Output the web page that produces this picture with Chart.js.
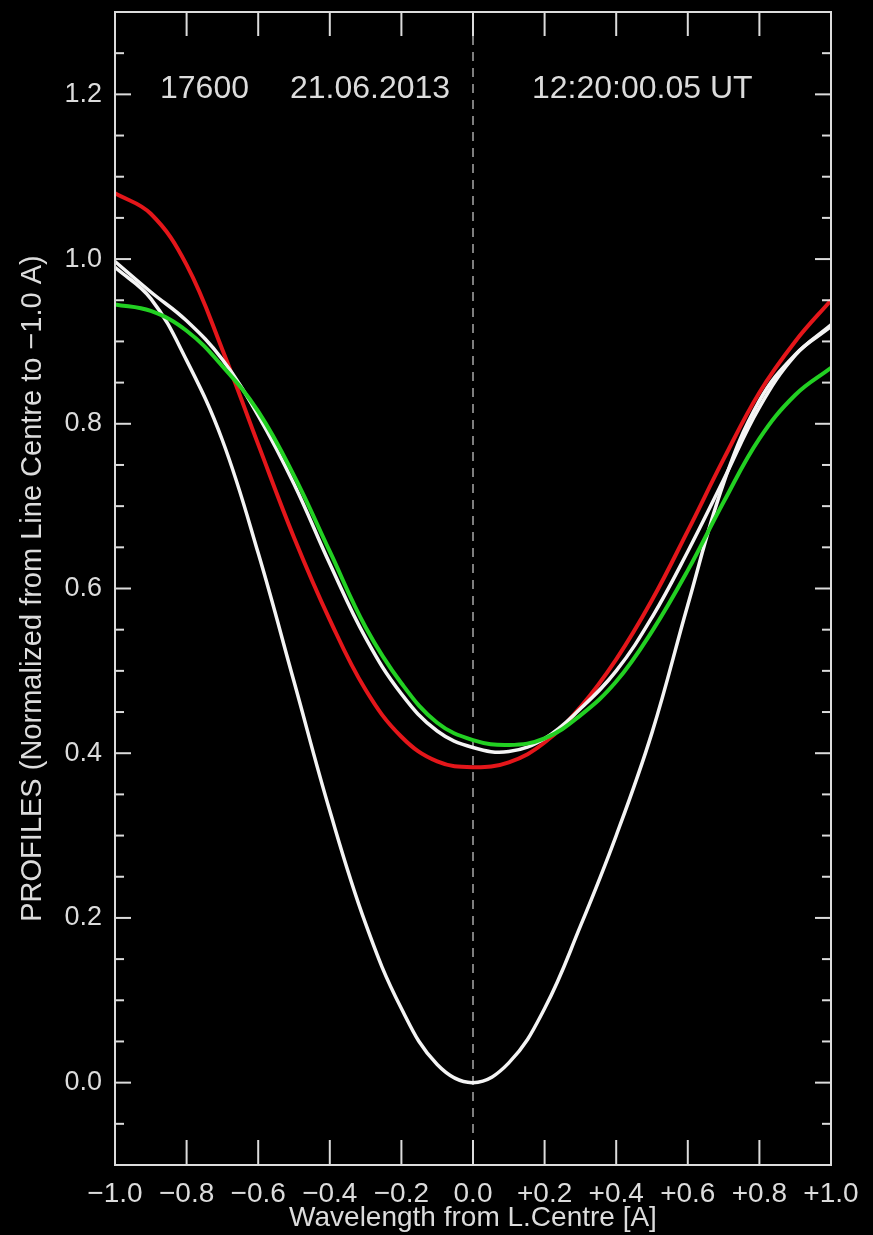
<!DOCTYPE html>
<html><head><meta charset="utf-8">
<script src="https://cdn.jsdelivr.net/npm/chart.js@4.4.1/dist/chart.umd.min.js"></script>
<style>html,body{margin:0;padding:0;background:#000;overflow:hidden}#wrap{width:873px;height:1235px;position:relative}</style>
</head><body><div id="wrap"><canvas id="c" width="873" height="1235"></canvas></div>
<script>
// ---- data ----
const wavelength = [-1.0,-0.9,-0.8,-0.7,-0.6,-0.5,-0.4,-0.3,-0.2,-0.1,0.0,0.1,0.2,0.3,0.4,0.5,0.6,0.7,0.8,0.9,1.0];
const deepProfile  = [0.99,0.952,0.877,0.78,0.643,0.487,0.33,0.193,0.09,0.022,0.0,0.024,0.09,0.19,0.30,0.425,0.58,0.728,0.828,0.884,0.918];
const whiteProfile = [0.997,0.96,0.925,0.878,0.81,0.727,0.63,0.54,0.472,0.427,0.407,0.402,0.418,0.454,0.50,0.565,0.645,0.732,0.82,0.883,0.92];
const redProfile   = [1.08,1.055,0.993,0.89,0.775,0.662,0.562,0.477,0.42,0.39,0.383,0.389,0.413,0.456,0.514,0.586,0.67,0.757,0.838,0.9,0.95];
const greenProfile = [0.945,0.937,0.913,0.87,0.815,0.737,0.645,0.553,0.485,0.437,0.416,0.41,0.418,0.446,0.487,0.548,0.622,0.705,0.782,0.835,0.868];
const lineCentre = 0.0;
const xTickValues = [-1.0,-0.8,-0.6,-0.4,-0.2,0.0,0.2,0.4,0.6,0.8,1.0];
const xTickLabels = ['\u22121.0','\u22120.8','\u22120.6','\u22120.4','\u22120.2','0.0','+0.2','+0.4','+0.6','+0.8','+1.0'];
const yTickValues = [0.0,0.2,0.4,0.6,0.8,1.0,1.2];
const yTickLabels = ['0.0','0.2','0.4','0.6','0.8','1.0','1.2'];
const yMinorStep = 0.05;
const xRange = [-1.0, 1.0];
const yRange = [-0.1, 1.3];
const headerTexts = ['17600','21.06.2013','12:20:00.05 UT'];
const xTitle = 'Wavelength from L.Centre [A]';
const yTitle = 'PROFILES (Normalized from Line Centre to \u22121.0 A)';

const FG = '#dcdcdc';
const FONT = "'Liberation Sans', Arial, sans-serif";
const pts = arr => wavelength.map((x,i)=>({x, y:arr[i]}));

const framePlugin = {
  id:'frame',
  afterDatasetsDraw(chart){
    const {ctx, chartArea:a, scales:{x,y}} = chart;
    ctx.save();
    ctx.strokeStyle = FG; ctx.lineWidth = 2;
    const ln=(x1,y1,x2,y2)=>{ctx.beginPath();ctx.moveTo(x1,y1);ctx.lineTo(x2,y2);ctx.stroke();};
    ctx.strokeRect(a.left, a.top, a.right-a.left, a.bottom-a.top);
    xTickValues.forEach(v=>{
      const px = x.getPixelForValue(v);
      ln(px,a.bottom,px,a.bottom-25);
      ln(px,a.top,px,a.top+24);
    });
    const n0 = Math.round(yRange[0]/yMinorStep), n1 = Math.round(yRange[1]/yMinorStep);
    for(let k=n0;k<=n1;k++){
      const v = k*yMinorStep;
      const major = yTickValues.some(t=>Math.abs(t-v)<1e-6);
      const len = major?16:9;
      const py = y.getPixelForValue(v);
      if (py<=a.top+1 || py>=a.bottom-1) continue;
      ln(a.left,py,a.left+len,py);
      ln(a.right,py,a.right-len,py);
    }
    ctx.fillStyle = FG;
    ctx.font = "32px " + FONT;
    ctx.textBaseline = 'alphabetic';
    ctx.textAlign = 'left';
    ctx.fillText(headerTexts[0], 160, 98);
    ctx.fillText(headerTexts[1], 290, 98);
    ctx.fillText(headerTexts[2], 532, 98);
    ctx.restore();
  }
};

new Chart(document.getElementById('c'), {
  type:'line',
  data:{datasets:[
    {data:pts(greenProfile), borderColor:'#22d022', borderWidth:4, order:1},
    {data:pts(whiteProfile), borderColor:'#f4f4f4', borderWidth:3.5, order:2},
    {data:pts(redProfile), borderColor:'#e4161a', borderWidth:4, order:3},
    {data:pts(deepProfile), borderColor:'#f4f4f4', borderWidth:3.5, order:4},
    {data:[{x:lineCentre,y:yRange[0]},{x:lineCentre,y:yRange[1]}], borderColor:'#a8a8a8', borderWidth:1.5, borderDash:[9,7], order:5, tension:0}
  ]},
  options:{
    responsive:false, animation:false, devicePixelRatio:1,
    layout:{padding:{top:12,right:42,left:0,bottom:0}},
    elements:{point:{radius:0}, line:{tension:0.4}},
    plugins:{legend:{display:false}, tooltip:{enabled:false}},
    scales:{
      x:{type:'linear', min:xRange[0], max:xRange[1],
        grid:{display:false, drawTicks:false}, border:{display:false},
        afterBuildTicks:s=>{s.ticks = xTickValues.map(v=>({value:v}));},
        afterFit:s=>{s.height = 70; s.paddingLeft = 0; s.paddingRight = 0;},
        ticks:{color:FG, font:{family:FONT,size:28}, padding:12, maxRotation:0, autoSkip:false,
          callback:(v,i)=>xTickLabels[i]},
        title:{display:true, text:xTitle, color:FG, font:{family:FONT,size:28}, padding:{top:0,bottom:0}}
      },
      y:{type:'linear', min:yRange[0], max:yRange[1],
        grid:{display:false, drawTicks:false}, border:{display:false},
        afterBuildTicks:s=>{s.ticks = yTickValues.map(v=>({value:v}));},
        afterFit:s=>{s.width = 115; s.paddingTop = 0; s.paddingBottom = 0;},
        ticks:{color:FG, font:{family:FONT,size:27}, padding:13, autoSkip:false,
          callback:(v,i)=>yTickLabels[i]},
        title:{display:true, text:yTitle, color:FG, font:{family:FONT,size:29}, padding:{top:16,bottom:0}}
      }
    }
  },
  plugins:[framePlugin]
});
</script></body></html>
